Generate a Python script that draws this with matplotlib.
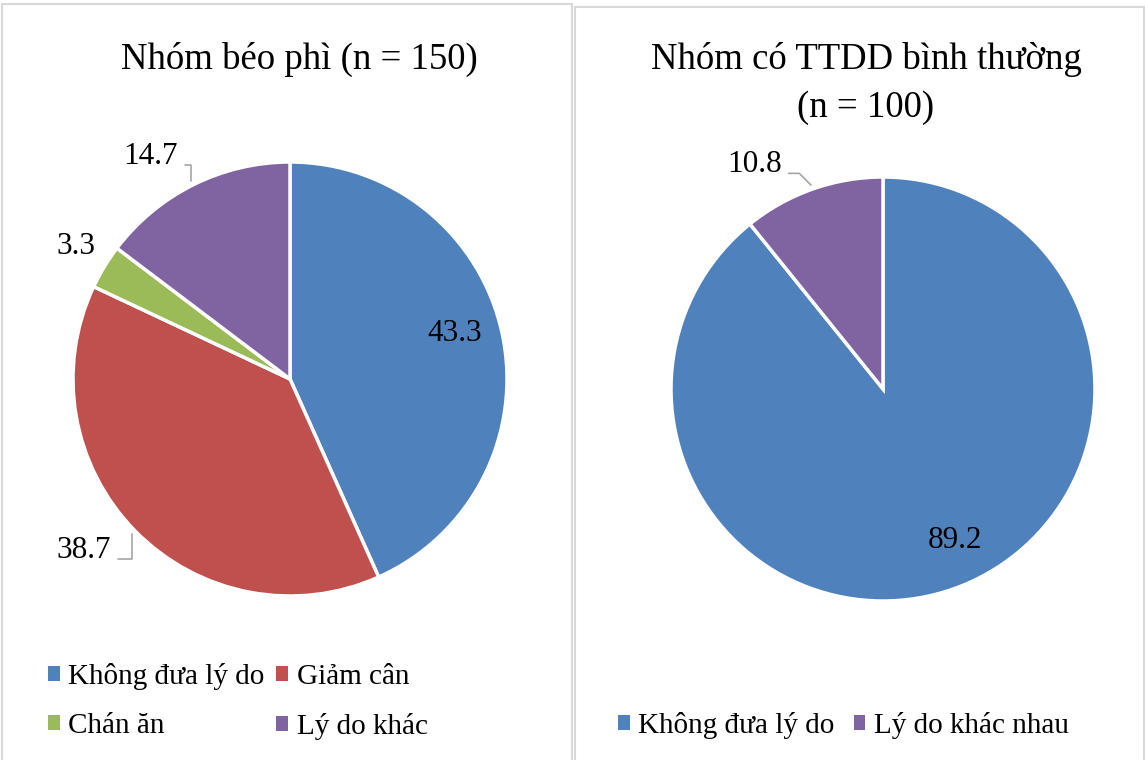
import numpy as np
import matplotlib.pyplot as plt
from matplotlib.patches import Rectangle, Patch

plt.rcParams['font.family'] = ['Liberation Serif', 'DejaVu Serif']

W, H = 1145, 760

# Nhóm béo phì (n = 150)
left_title = "Nhóm béo phì (n = 150)"
left_labels = ["Không đưa lý do", "Giảm cân", "Chán ăn", "Lý do khác"]
left_values = [43.3, 38.7, 3.3, 14.7]
left_colors = ["#4F81BD", "#C0504D", "#9BBB59", "#8064A2"]

# Nhóm có TTDD bình thường (n = 100)
right_title = ["Nhóm có TTDD bình thường", "(n = 100)"]
right_labels = ["Không đưa lý do", "Lý do khác nhau"]
right_values = [89.2, 10.8]
right_colors = ["#4F81BD", "#8064A2"]

# label placement: radius factor, angle nudge (deg), leader line angle or None
left_lab_style = [(0.79, 3.5, None), (1.235, -4.8, 90), (1.16, -0.5, None), (1.21, 5.6, 90)]
right_lab_style = [(0.79, 6.0, None), (1.22, 10.4, 135)]

fig = plt.figure(figsize=(W / 100, H / 100), dpi=100)


def px_axes(cx, cy, r):
    return fig.add_axes([(cx - r) / W, 1 - (cy + r) / H, 2 * r / W, 2 * r / H])


def panel(x0, y0, x1, y1):
    fig.patches.append(Rectangle((x0 / W, 1 - y1 / H), (x1 - x0) / W, (y1 - y0) / H,
                                 transform=fig.transFigure, fill=False,
                                 edgecolor="#D9D9D9", linewidth=1.5))


def draw_pie(ax, values, colors, styles):
    ax.pie(values, colors=colors, startangle=90, counterclock=False, radius=1,
           wedgeprops=dict(edgecolor="white", linewidth=2.5))
    ax.set_xlim(-1, 1)
    ax.set_ylim(-1, 1)
    ax.set_aspect("equal")
    ax.axis("off")
    cum = np.cumsum([0] + list(values))
    mids = 90 - 360 * (cum[:-1] + cum[1:]) / 2 / cum[-1]
    for v, mid, (rr, nudge, lead) in zip(values, mids, styles):
        a = np.deg2rad(mid + nudge)
        tx, ty = rr * np.cos(a), rr * np.sin(a)
        if lead is None:
            ax.text(tx, ty, f"{v:.1f}", ha="center", va="center", fontsize=22.5)
        else:
            m = np.deg2rad(mid)
            ax.annotate(f"{v:.1f}", xy=(1.02 * np.cos(m), 1.02 * np.sin(m)),
                        xytext=(tx, ty), ha="center", va="center", fontsize=22.5,
                        arrowprops=dict(arrowstyle="-", color="#A6A6A6", lw=1.2,
                                        relpos=(1, 0.2), shrinkA=3, shrinkB=0,
                                        connectionstyle=f"angle,angleA=0,angleB={lead},rad=0"))


panel(2, 4, 572, 775)
panel(575, 7, 1144, 775)

ax1 = px_axes(290, 379, 217)
draw_pie(ax1, left_values, left_colors, left_lab_style)
ax2 = px_axes(883, 389, 212)
draw_pie(ax2, right_values, right_colors, right_lab_style)

fig.text(299 / W, 1 - 69 / H, left_title, ha="center", va="baseline", fontsize=26.5)
fig.text(866 / W, 1 - 69 / H, right_title[0], ha="center", va="baseline", fontsize=26.5)
fig.text(866 / W, 1 - 117 / H, right_title[1], ha="center", va="baseline", fontsize=26.5)

# legend filled row by row, as in the original
order = [0, 2, 1, 3]
h1 = [Patch(facecolor=left_colors[i], edgecolor="none") for i in order]
fig.legend(h1, [left_labels[i] for i in order], ncol=2, loc="upper left",
           bbox_to_anchor=(48 / W, 1 - 663 / H),
           frameon=False, fontsize=21, handlelength=0.4, handleheight=0.4,
           handletextpad=0.3, columnspacing=0.4, labelspacing=0.78,
           borderpad=0, borderaxespad=0)

h2 = [Patch(facecolor=c, edgecolor="none") for c in right_colors]
fig.legend(h2, right_labels, ncol=2, loc="upper left", bbox_to_anchor=(618 / W, 1 - 712 / H),
           frameon=False, fontsize=21, handlelength=0.4, handleheight=0.4,
           handletextpad=0.3, columnspacing=0.65,
           borderpad=0, borderaxespad=0)

fig.savefig("out.png", dpi=100)
